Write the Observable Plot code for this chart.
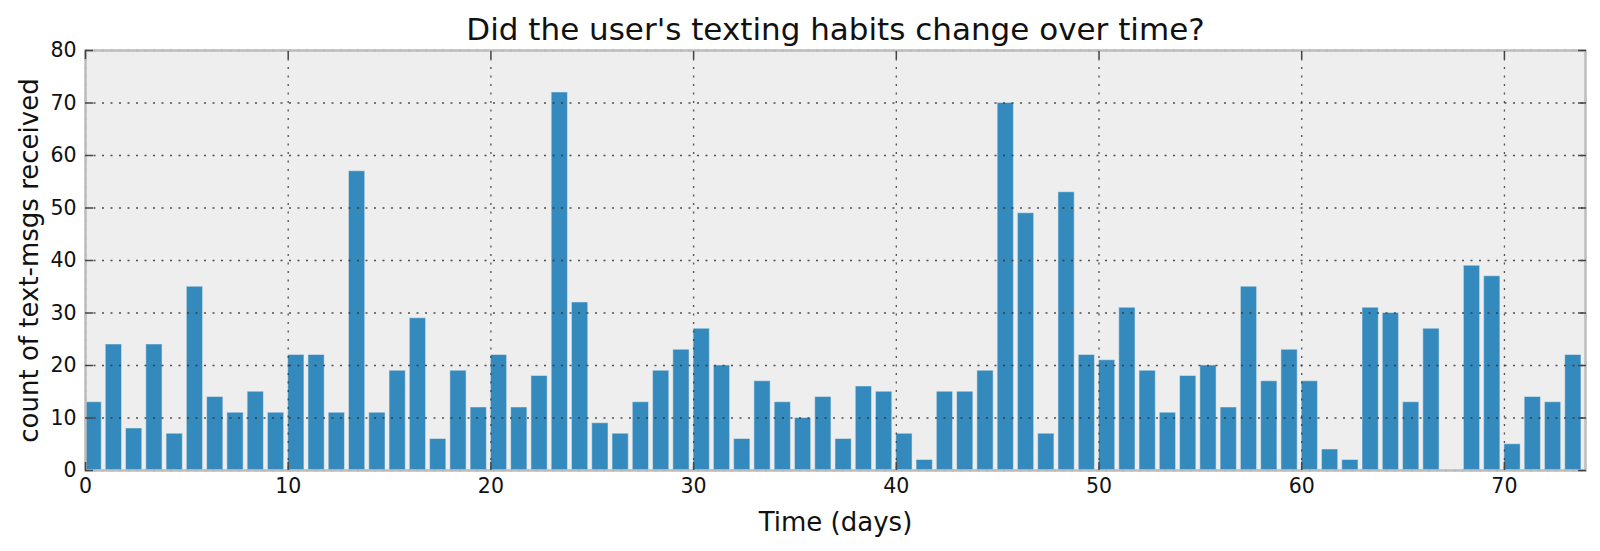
<!DOCTYPE html>
<html>
<head>
<meta charset="utf-8">
<script src="https://cdn.jsdelivr.net/npm/d3@7"></script>
<script src="https://cdn.jsdelivr.net/npm/@observablehq/plot@0.6"></script>
<style>
  html, body { margin: 0; padding: 0; background: #fff; }
  svg { display: block; }
  g[aria-label="x-axis tick label"] text, g[aria-label="y-axis tick label"] text,
  g[aria-label="x-axis tick label"], g[aria-label="y-axis tick label"] { font-size: 20.5px !important; }
</style>
</head>
<body>
<div id="chart"></div>
<script>
const titleText = "Did the user's texting habits change over time?";
const xLabel = "Time (days)";
const yLabel = "count of text-msgs received";
const counts = [13, 24, 8, 24, 7, 35, 14, 11, 15, 11, 22, 22, 11, 57, 11, 19, 29, 6, 19, 12,
  22, 12, 18, 72, 32, 9, 7, 13, 19, 23, 27, 20, 6, 17, 13, 10, 14, 6, 16, 15,
  7, 2, 15, 15, 19, 70, 49, 7, 53, 22, 21, 31, 19, 11, 18, 20, 12, 35, 17, 23,
  17, 4, 2, 31, 30, 13, 27, 0, 39, 37, 5, 14, 13, 22];
const days = counts.map((_, i) => i);
const xTicks = [0, 10, 20, 30, 40, 50, 60, 70];
const yTicks = [0, 10, 20, 30, 40, 50, 60, 70, 80];
const barWidth = 0.8;

const data = days.map((d, i) => ({day: d, dayEnd: d + barWidth, count: counts[i]}));

const font = "DejaVu Sans";
const plot = Plot.plot({
  width: 1600,
  height: 551,
  marginLeft: 85,
  marginRight: 15,
  marginTop: 50,
  marginBottom: 81,
  style: {fontFamily: font, background: "#fff"},
  x: {domain: [0, counts.length], ticks: xTicks},
  y: {domain: [0, 80], ticks: yTicks},
  marks: [
    Plot.frame({fill: "#eeeeee"}),
    Plot.rectY(data, {x1: "day", x2: "dayEnd", y: "count", fill: "#348ABD", stroke: "#eeeeee", strokeOpacity: 0.5, strokeWidth: 1}),
    Plot.gridX(xTicks, {stroke: "#333", strokeOpacity: 0.85, strokeWidth: 1.3, strokeDasharray: "2,6.5"}),
    Plot.gridY(yTicks, {stroke: "#333", strokeOpacity: 0.85, strokeWidth: 1.3, strokeDasharray: "2,6.5"}),
    Plot.frame({stroke: "#bcbcbc", strokeWidth: 2.5}),
    Plot.axisX(xTicks, {anchor: "bottom", tickSize: -8, tickPadding: 16, fontSize: 20.5, color: "#111", stroke: "#444", strokeWidth: 1.5, label: null}),
    Plot.axisX(xTicks, {anchor: "top", tickSize: -8, text: null, stroke: "#444", strokeWidth: 1.5, label: null}),
    Plot.axisY(yTicks, {anchor: "left", tickSize: -8, tickPadding: 17, fontSize: 20.5, color: "#111", stroke: "#444", strokeWidth: 1.5, label: null}),
    Plot.axisY(yTicks, {anchor: "right", tickSize: -8, text: null, stroke: "#444", strokeWidth: 1.5, label: null}),
    Plot.text([titleText], {frameAnchor: "top", dy: -11, lineAnchor: "bottom", fontSize: 31, fill: "#111"}),
    Plot.text([xLabel], {frameAnchor: "bottom", dy: 60, lineAnchor: "bottom", fontSize: 26, fill: "#111"}),
    Plot.text([yLabel], {frameAnchor: "left", dx: -56, rotate: -90, textAnchor: "middle", lineAnchor: "middle", fontSize: 26, fill: "#111"})
  ]
});
document.getElementById("chart").appendChild(plot);
</script>
</body>
</html>
